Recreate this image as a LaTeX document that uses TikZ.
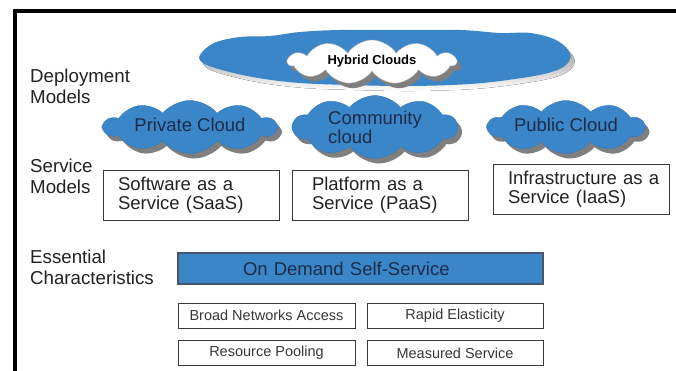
\documentclass[tikz,border=0pt]{standalone}
\usepackage{fontspec}
\setmainfont{Liberation Sans}
\usetikzlibrary{shapes.symbols,shadows}
\definecolor{cblue}{HTML}{3B86C8}
\definecolor{navy}{HTML}{1C2B4A}
\definecolor{ink}{HTML}{222222}
\definecolor{shade}{HTML}{7F7F7F}
\newcommand{\indt}{\hspace*{9pt}}
\newcommand{\indp}{\hspace*{14pt}}
\newcommand{\bigcloudpath}{plot[smooth cycle, tension=0.6] coordinates {(200,55) (214,43) (240,37) (270,36) (300,32) (340,30) (400,30) (460,30) (500,33) (530,33) (556,40) (570,53) (566,65) (548,73) (515,79) (470,84) (410,86) (350,85) (300,83) (258,78) (222,70) (203,63)}}
\begin{document}
\begin{tikzpicture}[x=1pt,y=-1pt,
  cloudsty/.style={cloud, cloud puffs=10, cloud puff arc=100, cloud ignores aspect,
    fill=cblue, draw=cblue!90!black, line width=0.4pt, text=navy,
    font=\fontsize{18.5}{19}\selectfont, inner sep=0pt,
    drop shadow={shadow xshift=4pt, shadow yshift=-5pt, fill=shade, opacity=1}},
  labelsty/.style={anchor=west, align=left, text=ink, inner sep=0pt,
    font=\fontsize{18.7}{21}\selectfont},
  svcbox/.style={draw=ink!90, line width=0.9pt, minimum width=176pt, minimum height=50pt,
    inner xsep=6pt, text width=164pt, align=left, text=ink,
    font=\fontsize{18.5}{19}\selectfont},
  smallbox/.style={draw=ink!90, line width=0.9pt, minimum width=177pt, minimum height=25pt,
    inner sep=0pt, text=ink!90, font=\fontsize{14.5}{16}\selectfont},
  ]
\useasboundingbox (0,0) rectangle (676,371);
\fill[white] (0,0) rectangle (676,371);
\draw[line width=4pt] (15,371) -- (15,11) -- (676,11);

% labels
\node[labelsty] (dep) at (30,86) {Deployment\\Models};
\node[labelsty] (svc) at (30,176) {Service\\Models};
\node[labelsty] (ess) at (30,267) {Essential\\Characteristics};

% hybrid
\fill[shade, shift={(4,5)}] \bigcloudpath;
\fill[cblue] \bigcloudpath;
\node[cloudsty, fill=white, draw=gray!60, cloud puffs=11, cloud puff arc=115, minimum width=168pt, minimum height=44pt,
      text=black, font=\fontsize{13}{15}\selectfont\bfseries] (hybw) at (372,62) {\raisebox{5pt}{Hybrid Clouds}};

% deployment clouds
\node[cloudsty, minimum width=172pt, minimum height=53pt] (priv) at (190,127) {\raisebox{4pt}{Private Cloud}};
\node[cloudsty, minimum width=164pt, minimum height=55pt, align=left] (comm) at (375,127) {Community\\cloud};
\node[cloudsty, minimum width=156pt, minimum height=53pt] (pub) at (566,127) {\raisebox{4pt}{Public Cloud}};

% service boxes
\node[svcbox] (saas) at (191,195) {\indt Software as a\\\indt Service (SaaS)};
\node[svcbox] (paas) at (380,195) {\indp Platform as a\\\indp Service (PaaS)};
\node[svcbox] (iaas) at (581,189.5) {\indt Infrastructure as a\\\indt Service (IaaS)};

% essential characteristics
\node[draw=navy!80, line width=1.2pt, fill=cblue, minimum width=365pt, minimum height=31pt,
      inner xsep=65pt, text width=235pt, align=left, text=navy,
      font=\fontsize{18.5}{20}\selectfont] (od) at (360.5,268.5) {On Demand Self-Service};
\node[smallbox] (bna) at (266.5,315.5) {Broad Networks Access};
\node[smallbox, minimum width=176pt] (re) at (455,315.5) {Rapid Elasticity};
\node[smallbox] (rp) at (266.5,353) {Resource Pooling};
\node[smallbox, minimum width=176pt] (ms) at (455,353) {Measured Service};
\end{tikzpicture}
\end{document}
